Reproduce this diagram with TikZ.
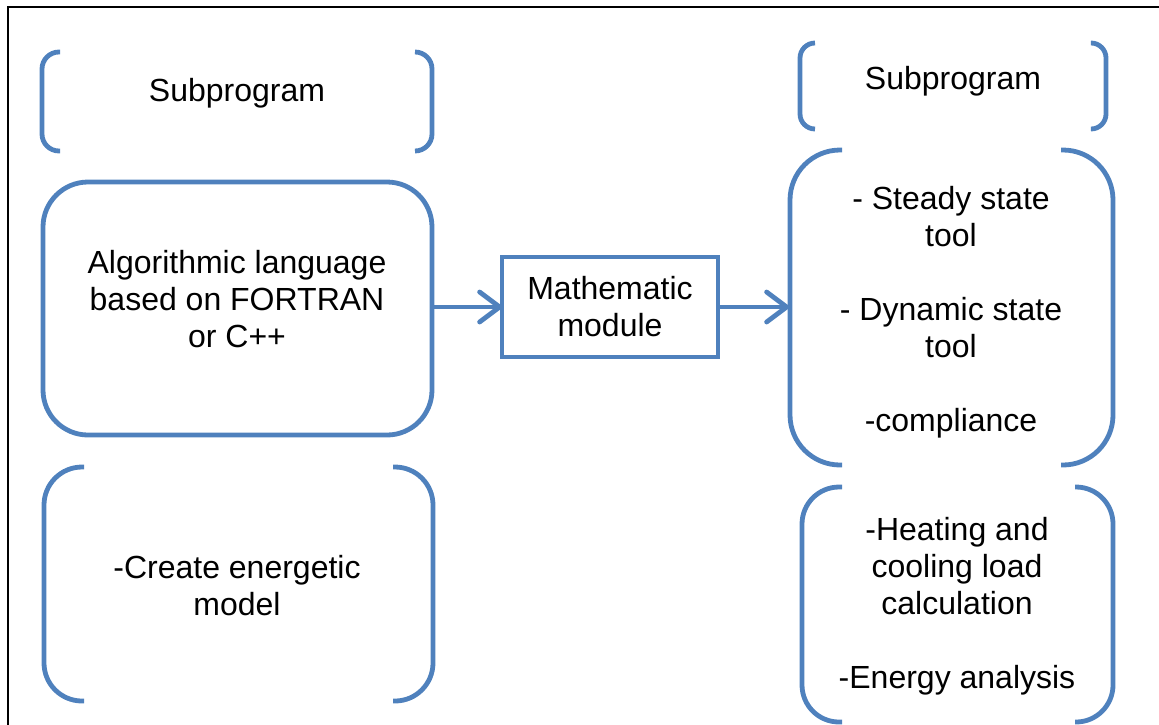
\documentclass[tikz,border=0pt]{standalone}
\usepackage{fontspec}
\setmainfont{Liberation Sans}
\usetikzlibrary{arrows.meta,calc}
\definecolor{boxblue}{HTML}{4F81BD}
\newcommand\brpair[7]{%
  % #1 L, #2 R, #3 T, #4 B, #5 left stub, #6 right stub, #7 radius
  \draw[brline, rounded corners=#7] (#1+#5,#3) -- (#1,#3) -- (#1,#4) -- (#1+#5,#4);
  \draw[brline, rounded corners=#7] (#2-#6,#3) -- (#2,#3) -- (#2,#4) -- (#2-#6,#4);
}
\begin{document}
\begin{tikzpicture}[x=0.5pt,y=-0.5pt,
  brline/.style={draw=boxblue, line width=2.4pt},
  txt/.style={align=center, inner sep=0pt, font=\fontsize{16}{18.5}\selectfont},
  freetxt/.style={txt, yshift=-1.5pt},
  boxnode/.style={draw=boxblue, line width=2.4pt, inner sep=0pt, outer sep=0pt},
  arr/.style={draw=boxblue, line width=2.4pt, -{Straight Barb[length=10pt,width=15pt,line join=round,line cap=round]}}
]
\useasboundingbox (0,0) rectangle (1159,724);
% outer frame
\draw[black, line width=1pt] (7.5,740) -- (7.5,6.5) -- (1170,6.5);

% brackets
\brpair{42}{432}{52}{151}{18}{17}{8.5pt}
\brpair{800}{1106}{43}{129}{15}{14}{7.5pt}
\brpair{790}{1113}{150}{465}{52}{52}{25pt}
\brpair{802}{1113}{487}{722}{40}{38}{18.5pt}
\brpair{44}{433}{467}{701}{40}{40}{19pt}

% boxes
\node[boxnode, rounded corners=22.5pt, minimum width=194.5pt, minimum height=126.5pt] (alg) at (237.5,308.5) {};
\node[boxnode, minimum width=108pt, minimum height=50pt, txt] (math) at (610,307) {Mathematic\\module};
\coordinate (steadyin) at (789,307);

% texts
\node[freetxt] (sub1) at (237,90) {Subprogram};
\node[freetxt] (sub2) at (953,78) {Subprogram};
\node[freetxt] (algtext) at (237,296) {Algorithmic language\\based on FORTRAN\\or C++};
\node[freetxt] (steady) at (951,309.5) {- Steady state\\tool\\[18.5pt]- Dynamic state\\tool\\[18.5pt]-compliance};
\node[freetxt] (create) at (237,582.5) {-Create energetic\\model};
\node[freetxt] (heat) at (957,603.5) {-Heating and\\cooling load\\calculation\\[18.5pt]-Energy analysis};

% arrows
\draw[arr] (alg.east |- math.west) -- (math.west);
\draw[arr] (math.east) -- (steadyin);
\end{tikzpicture}
\end{document}
